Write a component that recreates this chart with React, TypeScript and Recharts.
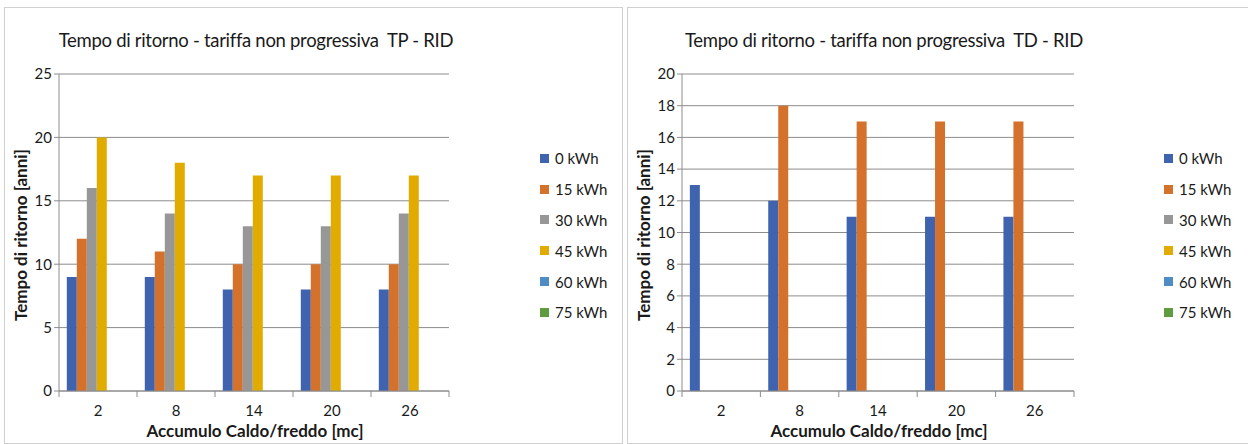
import React from "react";
import { BarChart, Bar, XAxis, YAxis, CartesianGrid } from "recharts";

const categories = ["2", "8", "14", "20", "26"];
const seriesNames = ["0 kWh", "15 kWh", "30 kWh", "45 kWh", "60 kWh", "75 kWh"];
const seriesColors = ["#3F63AE", "#D4712B", "#979797", "#E2AB00", "#4F8CC5", "#5F9C3F"];

const tpKwh0 = [9, 9, 8, 8, 8];
const tpKwh15 = [12, 11, 10, 10, 10];
const tpKwh30 = [16, 14, 13, 13, 14];
const tpKwh45 = [20, 18, 17, 17, 17];
const tpKwh60: (number | null)[] = [null, null, null, null, null];
const tpKwh75: (number | null)[] = [null, null, null, null, null];

const tdKwh0 = [13, 12, 11, 11, 11];
const tdKwh15: (number | null)[] = [null, 18, 17, 17, 17];
const tdKwh30: (number | null)[] = [null, null, null, null, null];
const tdKwh45: (number | null)[] = [null, null, null, null, null];
const tdKwh60: (number | null)[] = [null, null, null, null, null];
const tdKwh75: (number | null)[] = [null, null, null, null, null];

const tpTicks = [0, 5, 10, 15, 20, 25];
const tdTicks = [0, 2, 4, 6, 8, 10, 12, 14, 16, 18, 20];

const titleTP = "Tempo di ritorno - tariffa non progressiva  TP - RID";
const titleTD = "Tempo di ritorno - tariffa non progressiva  TD - RID";
const yLabel = "Tempo di ritorno [anni]";
const xLabel = "Accumulo Caldo/freddo [mc]";

const build = (cols: (number | null)[][]) =>
  categories.map((c, i) => {
    const row: any = { cat: c };
    seriesNames.forEach((n, k) => {
      row[n] = cols[k][i];
    });
    return row;
  });

const tpData = build([tpKwh0, tpKwh15, tpKwh30, tpKwh45, tpKwh60, tpKwh75]);
const tdData = build([tdKwh0, tdKwh15, tdKwh30, tdKwh45, tdKwh60, tdKwh75]);

const FONT = "Lato, 'Open Sans', sans-serif";
const AXIS = "#8C8C8C";

const makeXTick = (band: number) => (props: any) => {
  const { x, y, payload, index, visibleTicksCount } = props;
  const last = index === (visibleTicksCount ?? categories.length) - 1;
  return (
    <g>
      <line x1={x - band / 2} x2={x - band / 2} y1={y - 8} y2={y - 2} stroke={AXIS} />
      {last && <line x1={x + band / 2} x2={x + band / 2} y1={y - 8} y2={y - 2} stroke={AXIS} />}
      <text x={x} y={y + 17} textAnchor="middle" fontSize={15} fill="#1a1a1a" fontFamily={FONT}>
        {payload.value}
      </text>
    </g>
  );
};

type PanelProps = {
  left: number;
  width: number;
  title: string;
  titleCenter: number;
  data: any[];
  ticks: number[];
  max: number;
  yAxisX: number;
  plotRight: number;
  legendLeft: number;
};

const Panel = ({ left, width, title, titleCenter, data, ticks, max, yAxisX, plotRight, legendLeft }: PanelProps) => {
  const height = 437;
  const top = 7;
  const yAxisW = yAxisX - left;
  const band = (plotRight - yAxisX) / categories.length;
  const tc = titleCenter - left - 1;
  return (
    <div
      style={{
        position: "absolute",
        left,
        top,
        width,
        height,
        border: "1px solid #D0D0D0",
        boxSizing: "border-box",
        background: "#fff",
      }}
    >
      <div style={{ position: "absolute", left: 0, top: 0 }}>
        <BarChart
          width={width - 2}
          height={height}
          data={data}
          margin={{ top: 66, right: width - 2 - (plotRight - left - 1), left: 0, bottom: 24 }}
          barCategoryGap="10%"
          barGap={0}
        >
          <CartesianGrid vertical={false} stroke={AXIS} strokeWidth={1} />
          <XAxis
            dataKey="cat"
            height={30}
            axisLine={{ stroke: AXIS }}
            tickLine={false}
            tick={makeXTick(band)}
            interval={0}
          />
          <YAxis
            width={yAxisW - 1}
            domain={[0, max]}
            ticks={ticks}
            interval={0}
            axisLine={{ stroke: AXIS }}
            tickLine={{ stroke: AXIS }}
            tickSize={5}
            tick={{ fontSize: 15, fill: "#1a1a1a", fontFamily: FONT }}
          />
          {seriesNames.map((n, i) => (
            <Bar key={n} dataKey={n} fill={seriesColors[i]} isAnimationActive={false} />
          ))}
        </BarChart>
      </div>
      <div
        style={{
          position: "absolute",
          left: legendLeft - left - 1,
          top: 135,
          fontFamily: FONT,
          fontSize: 15,
          color: "#1a1a1a",
        }}
      >
        {seriesNames.map((n, i) => (
          <div key={n} style={{ display: "flex", alignItems: "center", height: 30.8 }}>
            <span style={{ display: "inline-block", width: 9, height: 9, background: seriesColors[i], marginRight: 6 }} />
            <span>{n}</span>
          </div>
        ))}
      </div>
      <div
        style={{
          position: "absolute",
          left: tc - 260,
          width: 520,
          top: 21,
          textAlign: "center",
          fontFamily: FONT,
          fontSize: 18.5,
          color: "#1a1a1a",
          whiteSpace: "pre",
          letterSpacing: -0.3,
        }}
      >
        {title}
      </div>
      <div
        style={{
          position: "absolute",
          left: 16 - 120,
          top: 224 - 7,
          width: 240,
          textAlign: "center",
          transform: "rotate(-90deg)",
          fontFamily: FONT,
          fontSize: 17,
          fontWeight: 700,
          color: "#1a1a1a",
          lineHeight: "20px",
        }}
      >
        {yLabel}
      </div>
      <div
        style={{
          position: "absolute",
          left: yAxisX - left,
          width: plotRight - yAxisX,
          top: 413,
          textAlign: "center",
          fontFamily: FONT,
          fontSize: 17,
          fontWeight: 700,
          color: "#1a1a1a",
          lineHeight: "20px",
        }}
      >
        {xLabel}
      </div>
    </div>
  );
};

export default function App() {
  return (
    <div style={{ position: "absolute", left: 0, top: 0, width: 1248, height: 444, background: "#fff", overflow: "hidden" }}>
      <Panel left={4} width={619} title={titleTP} titleCenter={256} data={tpData} ticks={tpTicks} max={25} yAxisX={59} plotRight={449} legendLeft={540} />
      <Panel left={627} width={625} title={titleTD} titleCenter={884} data={tdData} ticks={tdTicks} max={20} yAxisX={682} plotRight={1074} legendLeft={1164} />
    </div>
  );
}
